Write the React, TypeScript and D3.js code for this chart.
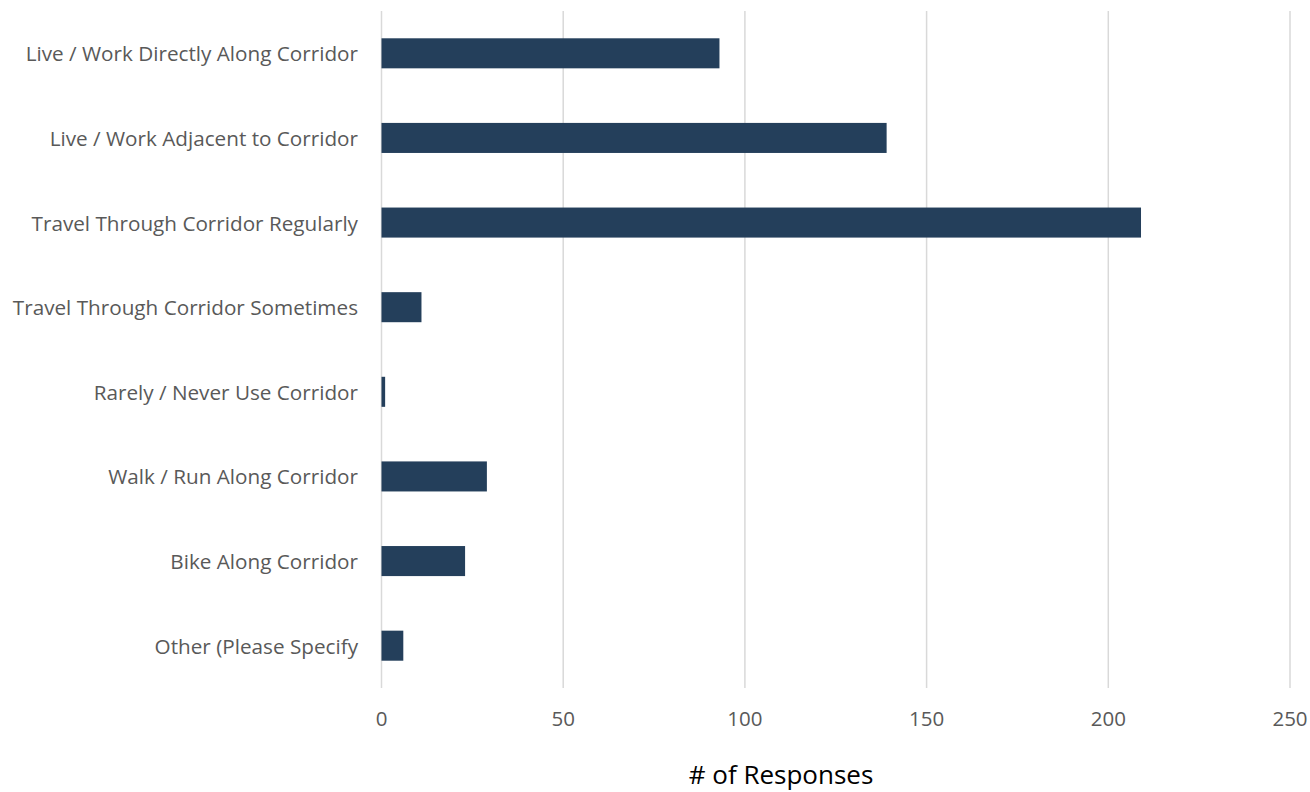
import React from "react";
import * as d3 from "d3";

const categories = [
  "Live / Work Directly Along Corridor",
  "Live / Work Adjacent to Corridor",
  "Travel Through Corridor Regularly",
  "Travel Through Corridor Sometimes",
  "Rarely / Never Use Corridor",
  "Walk / Run Along Corridor",
  "Bike Along Corridor",
  "Other (Please Specify",
];
const responses = [93, 139, 209, 11, 1, 29, 23, 6];
const xTicks = [0, 50, 100, 150, 200, 250];
const axisTitle = "# of Responses";

const W = 1310;
const H = 792;
const plot = { left: 381.5, right: 1290, top: 11, bottom: 688 };
const BAR = "#243f5b";
const GRID = "#d9d9d9";
const LABEL = "#595959";
const FONT = "'Open Sans', 'Noto Sans', sans-serif";

export default function App() {
  const x = d3.scaleLinear().domain([0, 250]).range([plot.left, plot.right]);
  const y = d3
    .scaleBand<string>()
    .domain(categories)
    .range([plot.top, plot.bottom])
    .paddingInner(0.645)
    .paddingOuter(0.3225);

  return (
    <div style={{ position: "absolute", left: 0, top: 0 }}>
      <svg width={W} height={H} style={{ display: "block", background: "#fff" }}>
        {xTicks.map((t) => (
          <line
            key={"g" + t}
            x1={x(t)}
            x2={x(t)}
            y1={plot.top}
            y2={plot.bottom}
            stroke={GRID}
            strokeWidth={1.5}
          />
        ))}
        {categories.map((c, i) => (
          <rect
            key={c}
            x={x(0)}
            y={y(c)}
            width={x(responses[i]) - x(0)}
            height={y.bandwidth()}
            fill={BAR}
          />
        ))}
        {categories.map((c) => (
          <text
            key={"l" + c}
            x={358}
            y={(y(c) as number) + y.bandwidth() / 2}
            textAnchor="end"
            dominantBaseline="central"
            fontFamily={FONT}
            fontSize={20.7}
            fill={LABEL}
          >
            {c}
          </text>
        ))}
        {xTicks.map((t) => (
          <text
            key={"t" + t}
            x={x(t)}
            y={718}
            textAnchor="middle"
            dominantBaseline="central"
            fontFamily={FONT}
            fontSize={20.5}
            fill={LABEL}
          >
            {t}
          </text>
        ))}
        <text
          x={781}
          y={774}
          textAnchor="middle"
          dominantBaseline="central"
          fontFamily={FONT}
          fontSize={26}
          fill="#000"
        >
          {axisTitle}
        </text>
      </svg>
    </div>
  );
}
